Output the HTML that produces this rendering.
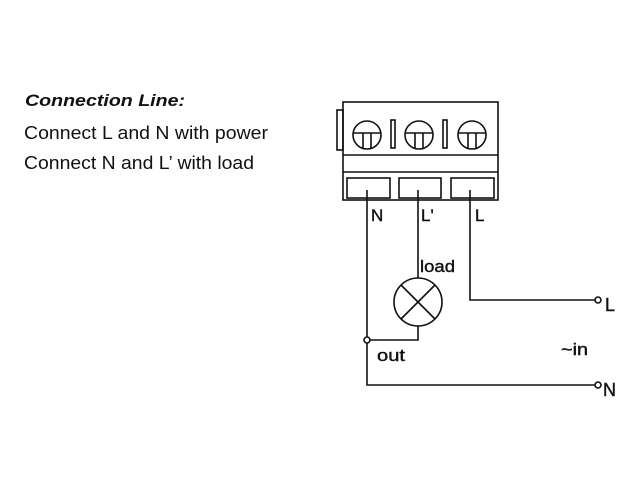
<!DOCTYPE html>
<html><head><style>
body{margin:0;background:#fff;}
svg{display:block;}
text{font-family:"Liberation Sans",Arial,sans-serif;fill:#111;}
.l{stroke:#111;stroke-width:0.4;}
</style></head><body>
<svg width="640" height="480" viewBox="0 0 640 480" xmlns="http://www.w3.org/2000/svg">
<text x="25" y="106" font-size="17" font-weight="bold" font-style="italic" textLength="160" lengthAdjust="spacingAndGlyphs">Connection Line:</text>
<text x="24" y="139" font-size="18" textLength="244" lengthAdjust="spacingAndGlyphs">Connect L and N with power</text>
<text x="24" y="169" font-size="18" textLength="230" lengthAdjust="spacingAndGlyphs">Connect N and L’ with load</text>
<g fill="none" stroke="#111" stroke-width="1.6">
<rect x="343" y="102" width="155" height="98"/>
<rect x="337" y="110" width="6" height="40"/>
<line x1="343" y1="155" x2="498" y2="155"/>
<line x1="343" y1="172" x2="498" y2="172"/>
<rect x="347" y="178" width="43" height="20"/>
<rect x="399" y="178" width="42" height="20"/>
<rect x="451" y="178" width="43" height="20"/>
<circle cx="367" cy="135" r="14"/>
<circle cx="419" cy="135" r="14"/>
<circle cx="472" cy="135" r="14"/>
<path d="M353 133 H381 M363 133 V149 M371 133 V149"/>
<path d="M405 133 H433 M415 133 V149 M423 133 V149"/>
<path d="M458 133 H486 M468 133 V149 M476 133 V149"/>
<rect x="391" y="120" width="4" height="28"/>
<rect x="443" y="120" width="4" height="28"/>
<polyline points="367,190 367,385 595,385"/>
<polyline points="418,190 418,278"/>
<circle cx="418" cy="302" r="24"/>
<path d="M401 285 L435 319 M435 285 L401 319"/>
<polyline points="418,326 418,340 367,340"/>
<polyline points="470,190 470,300 595,300"/>
<circle cx="598" cy="300" r="3" fill="#fff"/>
<circle cx="598" cy="385" r="3" fill="#fff"/>
<circle cx="367" cy="340" r="3" fill="#fff"/>
</g>
<text class="l" x="371" y="221" font-size="17">N</text>
<text class="l" x="421" y="221" font-size="17">L'</text>
<text class="l" x="475" y="221" font-size="17">L</text>
<text class="l" x="420" y="272" font-size="17" textLength="35" lengthAdjust="spacingAndGlyphs">load</text>
<text class="l" x="377" y="361" font-size="17" textLength="28" lengthAdjust="spacingAndGlyphs">out</text>
<text class="l" x="561" y="355" font-size="17" textLength="27" lengthAdjust="spacingAndGlyphs">~in</text>
<text class="l" x="605" y="311" font-size="18">L</text>
<text class="l" x="603" y="396" font-size="18">N</text>
</svg>
</body></html>
